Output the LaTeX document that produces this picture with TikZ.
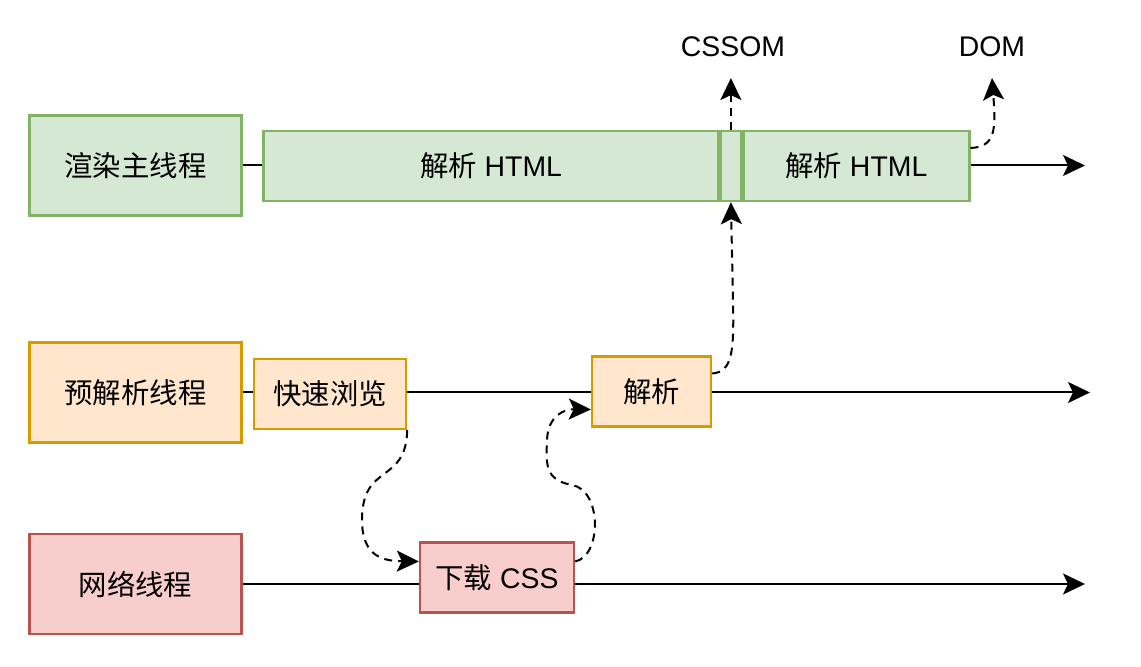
\documentclass[tikz,border=0pt]{standalone}
\usepackage{fontspec}
\setmainfont{Liberation Sans}
\newfontfamily\cjk{Noto Sans CJK SC}
\usepackage{tikz}
\usetikzlibrary{positioning, arrows.meta, backgrounds}

\definecolor{mainfill}{HTML}{D5E8D4}
\definecolor{maindraw}{HTML}{82B366}
\definecolor{prefill}{HTML}{FFE6CC}
\definecolor{predraw}{HTML}{D79B00}
\definecolor{netfill}{HTML}{F8CECC}
\definecolor{netdraw}{HTML}{B85450}

\begin{document}
\begin{tikzpicture}[
  x=0.5pt, y=-0.5pt,
  >={Stealth[length=11pt, width=10.5pt, inset=2.5pt]},
  font=\fontsize{14.2}{17}\selectfont,
  thread/.style={draw, line width=1.2pt, minimum width=106pt, minimum height=50pt, inner sep=0pt},
  task/.style={draw, line width=1.2pt, minimum height=35pt, inner sep=0pt},
  mainbox/.style={fill=mainfill, draw=maindraw},
  prebox/.style={fill=prefill, draw=predraw},
  netbox/.style={fill=netfill, draw=netdraw},
  tag/.style={inner sep=0pt, outer sep=10.5pt},
  timeline/.style={line width=1pt, ->},
  flow/.style={line width=1pt, dash pattern=on 4pt off 3pt, ->}
]
  \useasboundingbox (0,0) rectangle (1141,667);

  % Main thread
  \node[thread, mainbox] (render) at (135.5,165.5) {\cjk 渲染主线程};
  \node[task, mainbox, minimum width=227.5pt] (htmlA) at (491,166) {{\cjk 解析} HTML};
  \node[task, mainbox, minimum width=10pt, right=0pt of htmlA] (css) {};
  \node[task, mainbox, minimum width=113pt, right=0pt of css] (htmlB) {{\cjk 解析} HTML};

  % Preload scanner thread
  \node[thread, prebox] (pre) at (135.5,392.5) {\cjk 预解析线程};
  \node[task, prebox, minimum width=76pt] (scan) at (330,394) {\cjk 快速浏览};
  \node[task, prebox, minimum width=59.5pt] (parse) at (651.5,391.5) {\cjk 解析};

  % Network thread
  \node[thread, netbox] (net) at (135.5,584) {\cjk 网络线程};
  \node[task, netbox, minimum width=77pt] (load) at (497,577.5) {{\cjk 下载} CSS};

  % Results
  \node[tag] (cssom) at (733,47) {CSSOM};
  \node[tag] (dom) at (992,47) {DOM};

  % Time lines
  \coordinate (renderEnd) at (1085,166);
  \coordinate (preEnd) at (1090,393);
  \coordinate (netEnd) at (1085,584);
  \begin{scope}[on background layer]
    \draw[timeline] (render.east) -- (render.east -| renderEnd);
    \draw[timeline] (pre.east) -- (pre.east -| preEnd);
    \draw[timeline] (net.east) -- (net.east -| netEnd);
  \end{scope}

  % Hand-offs
  \draw[flow] (scan.south east) .. controls (406,485) and (362,462) .. (362,520)
    .. controls (362,558) and (385,561) .. ([yshift=8pt]load.west);
  \draw[flow] ([yshift=8pt]load.east) .. controls (602,556) and (602,490) .. (572,485)
    .. controls (545,480) and (546,465) .. (547,440)
    .. controls (548,415) and (565,409) .. ([yshift=-9pt]parse.west);
  \draw[flow] ([yshift=9pt]parse.east) .. controls (733,372) and (734,350) .. (733,300) -- (css.south);
  \draw[flow] (css.north) -- (css.north |- cssom.south);
  \draw[flow] ([yshift=9pt]htmlB.east) .. controls (995,147) and (995,130) .. (994,105) -- (dom.south);
\end{tikzpicture}
\end{document}
